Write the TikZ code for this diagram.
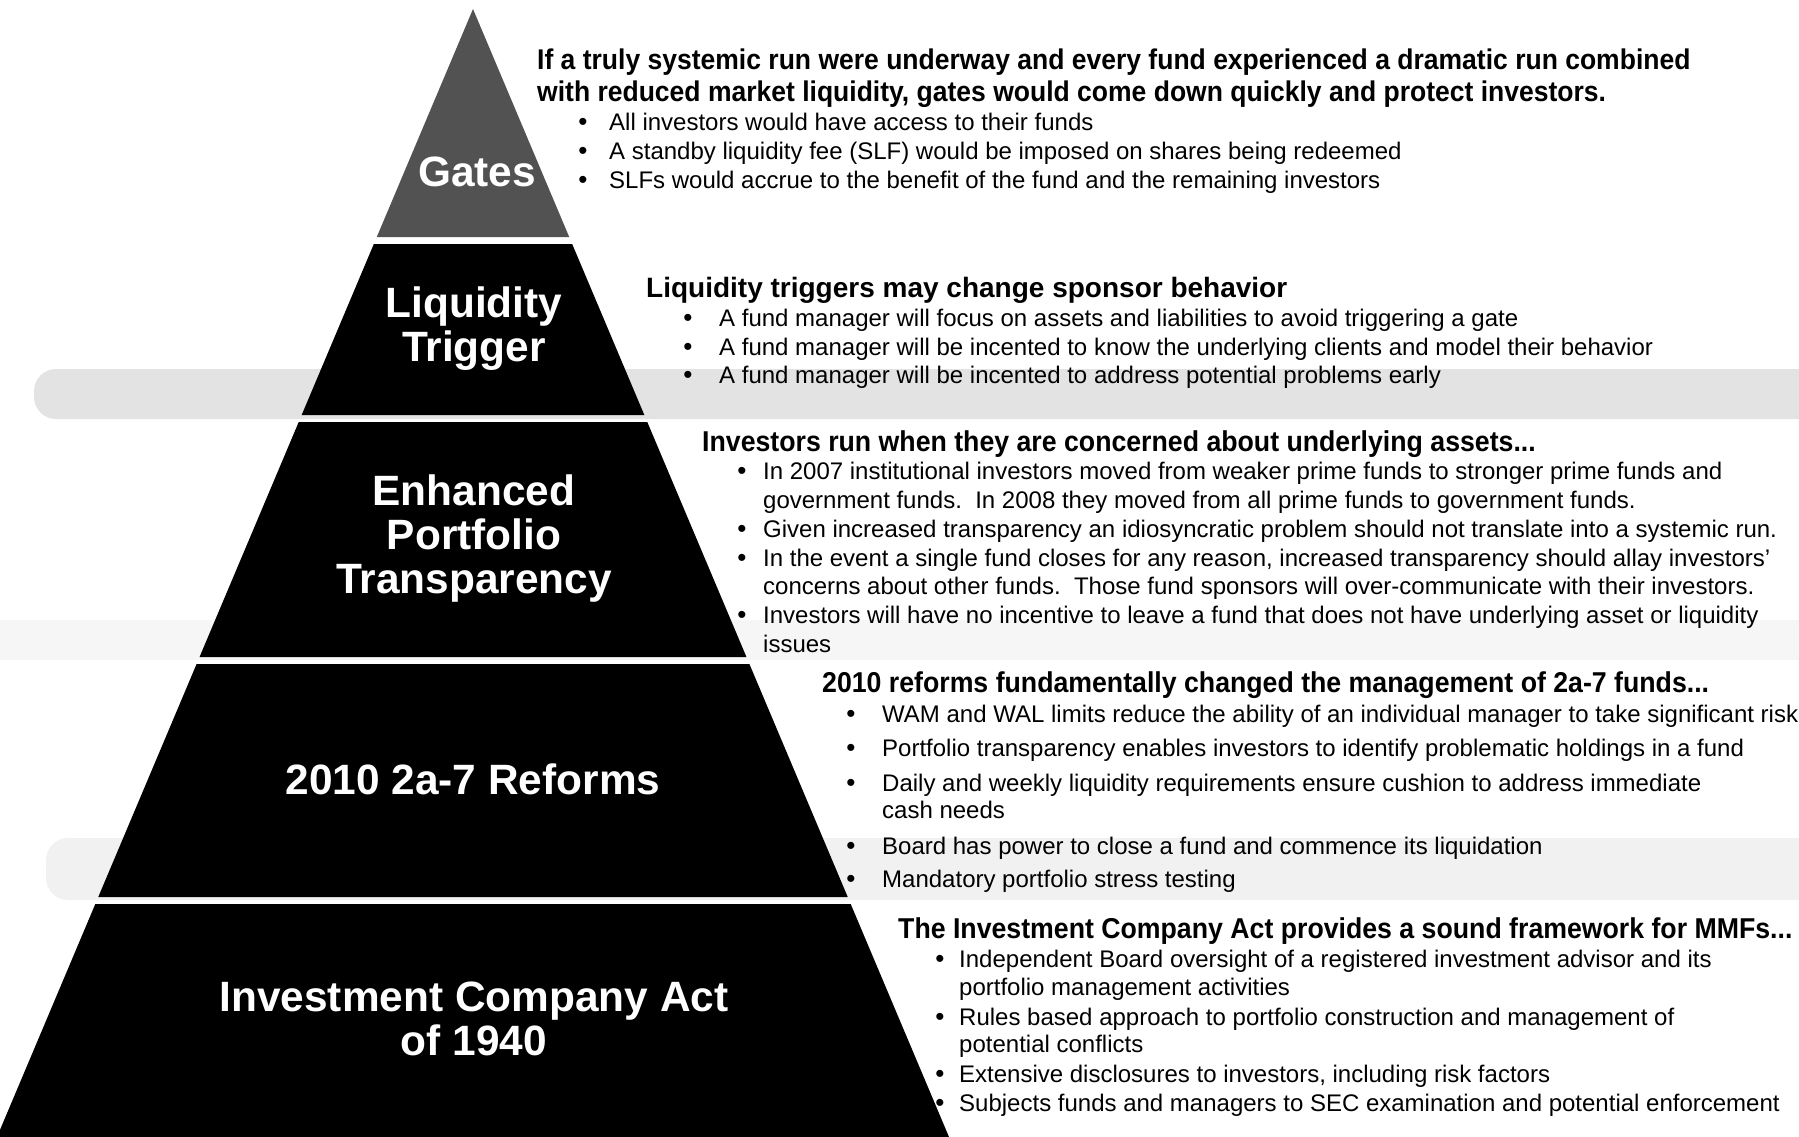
\documentclass[tikz,border=0pt]{standalone}
\usepackage{fontspec}
\setmainfont{Liberation Sans}
\newfontfamily\headfont{Liberation Sans}[FakeStretch=0.93]
\begin{document}
\begin{tikzpicture}[x=1pt,y=-1pt,
  tierfill/.style={fill=black},
  tier/.style={text=white,font=\fontsize{42.4}{44}\selectfont\bfseries,align=center,inner sep=0},
  blockhead/.style={anchor=base west,font=\headfont\fontsize{28.7}{32}\selectfont\bfseries,inner sep=0},
  itemtext/.style={anchor=base west,font=\fontsize{24}{28}\selectfont,inner sep=0},
  bulletdot/.style={anchor=base,font=\fontsize{26}{28}\selectfont,inner sep=0}]
  \useasboundingbox (0,0) rectangle (1799,1137);
  \def\apexx{473}
  \def\apexy{9}
  \def\slope{0.422}
  \fill[gray!22, rounded corners=22] (34,369) rectangle (1840,419);
  \fill[gray!7] (0,620) rectangle (1799,660);
  \fill[gray!11, rounded corners=22] (46,838) rectangle (1840,900);
  \fill[black!68] (\apexx,\apexy) -- ({\apexx+\slope*(237-\apexy)},237) -- ({\apexx-\slope*(237-\apexy)},237) -- cycle;
  \foreach \top/\bot in {244/415, 422/657, 664/897, 904/1137}
    \fill[tierfill] ({\apexx-\slope*(\top-\apexy)},\top) -- ({\apexx+\slope*(\top-\apexy)},\top) -- ({\apexx+\slope*(\bot-\apexy)},\bot) -- ({\apexx-\slope*(\bot-\apexy)},\bot) -- cycle;
  \node[tier] (gates) at (477,172) {Gates};
  \node[tier] (trigger) at (474,329) {Liquidity\\Trigger};
  \node[tier] (transparency) at (474,539) {Enhanced\\Portfolio\\Transparency};
  \node[tier] (reforms) at (473,779) {2010 2a-7 Reforms};
  \node[tier] (act) at (474,1019) {Investment Company Act\\of 1940};
  \node[blockhead, font=\headfont\fontsize{28.5}{32}\selectfont\bfseries] (gates-head) at (537,70) {If a truly systemic run were underway and every fund experienced a dramatic run combined};
  \node[blockhead, font=\headfont\fontsize{28.5}{32}\selectfont\bfseries] (gates-head2) at (537,102) {with reduced market liquidity, gates would come down quickly and protect investors.};
  \foreach \n/\y/\t in {1/131/{All investors would have access to their funds},
                        2/160/{A standby liquidity fee (SLF) would be imposed on shares being redeemed},
                        3/188/{SLFs would accrue to the benefit of the fund and the remaining investors}}
    \node[itemtext] (gates-\n) at (609,\y) {\t};
  \foreach \n in {1,2,3}
    \node[bulletdot] (gates-dot-\n) at ([xshift=-26]gates-\n.base west) {\textbullet};
  \node[blockhead, font=\fontsize{28}{32}\selectfont\bfseries] (trigger-head) at (646,297) {Liquidity triggers may change sponsor behavior};
  \foreach \n/\y/\t in {1/326/{A fund manager will focus on assets and liabilities to avoid triggering a gate},
                        2/355/{A fund manager will be incented to know the underlying clients and model their behavior},
                        3/383/{A fund manager will be incented to address potential problems early}}
    \node[itemtext] (trigger-\n) at (719,\y) {\t};
  \foreach \n in {1,2,3}
    \node[bulletdot] (trigger-dot-\n) at ([xshift=-31]trigger-\n.base west) {\textbullet};
  \node[blockhead] (transparency-head) at (702,451) {Investors run when they are concerned about underlying assets...};
  \foreach \n/\y/\t in {1/479/{In 2007 institutional investors moved from weaker prime funds to stronger prime funds and},
                        1b/508/{government funds.\ \ In 2008 they moved from all prime funds to government funds.},
                        2/537/{Given increased transparency an idiosyncratic problem should not translate into a systemic run.},
                        3/566/{In the event a single fund closes for any reason, increased transparency should allay investors'},
                        3b/594/{concerns about other funds.\ \ Those fund sponsors will over-communicate with their investors.},
                        4/623/{Investors will have no incentive to leave a fund that does not have underlying asset or liquidity},
                        4b/652/{issues}}
    \node[itemtext] (transparency-\n) at (763,\y) {\t};
  \foreach \n in {1,2,3,4}
    \node[bulletdot] (transparency-dot-\n) at ([xshift=-21]transparency-\n.base west) {\textbullet};
  \node[blockhead] (reforms-head) at (822,692) {2010 reforms fundamentally changed the management of 2a-7 funds...};
  \foreach \n/\y/\t in {1/722/{WAM and WAL limits reduce the ability of an individual manager to take significant risk},
                        2/756/{Portfolio transparency enables investors to identify problematic holdings in a fund},
                        3/791/{Daily and weekly liquidity requirements ensure cushion to address immediate},
                        3b/818/{cash needs},
                        4/854/{Board has power to close a fund and commence its liquidation},
                        5/887/{Mandatory portfolio stress testing}}
    \node[itemtext] (reforms-\n) at (882,\y) {\t};
  \foreach \n in {1,2,3,4,5}
    \node[bulletdot] (reforms-dot-\n) at ([xshift=-31]reforms-\n.base west) {\textbullet};
  \node[blockhead] (act-head) at (898,938) {The Investment Company Act provides a sound framework for MMFs...};
  \foreach \n/\y/\t in {1/967/{Independent Board oversight of a registered investment advisor and its},
                        1b/995/{portfolio management activities},
                        2/1025/{Rules based approach to portfolio construction and management of},
                        2b/1052/{potential conflicts},
                        3/1082/{Extensive disclosures to investors, including risk factors},
                        4/1111/{Subjects funds and managers to SEC examination and potential enforcement}}
    \node[itemtext] (act-\n) at (959,\y) {\t};
  \foreach \n in {1,2,3,4}
    \node[bulletdot] (act-dot-\n) at ([xshift=-19]act-\n.base west) {\textbullet};
\end{tikzpicture}
\end{document}
